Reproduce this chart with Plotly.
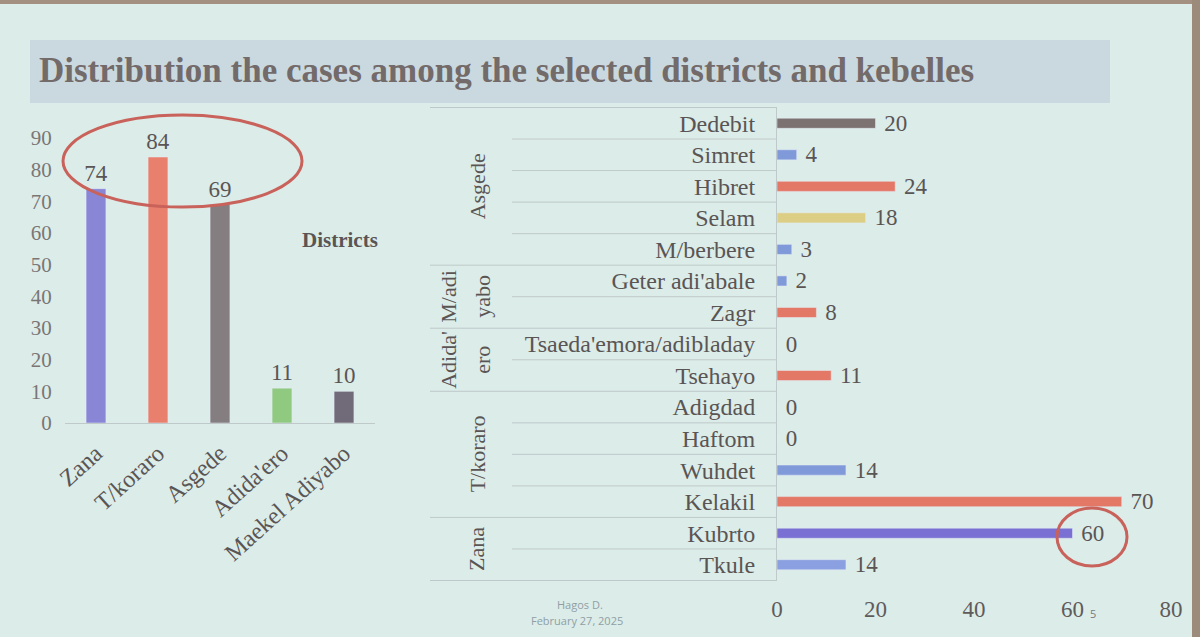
import plotly.graph_objects as go

W, H = 1200, 637

# ---- data ----
districts = ["Zana", "T/koraro", "Asgede", "Adida'ero", "Maekel Adiyabo"]
district_cases = [74, 84, 69, 11, 10]
district_colors = ["#8a86d6", "#e9806e", "#857e80", "#8fca80", "#716a78"]

kebelles = ["Dedebit", "Simret", "Hibret", "Selam", "M/berbere",
            "Geter adi'abale", "Zagr",
            "Tsaeda'emora/adibladay", "Tsehayo",
            "Adigdad", "Haftom", "Wuhdet", "Kelakil",
            "Kubrto", "Tkule"]
kebelle_cases = [20, 4, 24, 18, 3, 2, 8, 0, 11, 0, 0, 14, 70, 60, 14]
kebelle_colors = ["#7d7272", "#8099d8", "#e47866", "#dccf85", "#8099d8",
                  "#8099d8", "#e47866", "#e47866", "#e47866",
                  "#8099d8", "#8099d8", "#8099d8", "#e47866",
                  "#7a6fd2", "#8aa0e0"]
# groups: (label lines, first index, last index)
groups = [(["Asgede"], 0, 4),
          (["M/adi", "yabo"], 5, 6),
          (["Adida'", "ero"], 7, 8),
          (["T/koraro"], 9, 12),
          (["Zana"], 13, 14)]

left_ticks = [0, 10, 20, 30, 40, 50, 60, 70, 80, 90]
right_ticks = [0, 20, 40, 60, 80]

def px(x):
    return x / W

def py(y):
    return 1 - y / H

SERIF = "Liberation Serif"
TXT = "#5a5555"
fig = go.Figure()

fig.add_trace(go.Bar(
    x=districts, y=district_cases, marker_color=district_colors,
    text=district_cases, textposition="outside", constraintext="none",
    textfont=dict(family=SERIF, size=23, color=TXT),
    cliponaxis=False, xaxis="x", yaxis="y", showlegend=False))

fig.add_trace(go.Bar(
    y=kebelles, x=kebelle_cases, orientation="h", marker_color=kebelle_colors,
    texttemplate=" %{x}", textposition="outside", constraintext="none",
    textfont=dict(family=SERIF, size=23, color=TXT),
    cliponaxis=False, xaxis="x2", yaxis="y2", showlegend=False))

shapes = []
annotations = []

# slide decorations
shapes.append(dict(type="rect", xref="paper", yref="paper", x0=0, x1=1, y0=py(4), y1=1,
                   fillcolor="#a39080", line_width=0, layer="below"))
shapes.append(dict(type="rect", xref="paper", yref="paper", x0=px(1192), x1=1, y0=0, y1=1,
                   fillcolor="#9c8a7a", line_width=0, layer="below"))
shapes.append(dict(type="rect", xref="paper", yref="paper", x0=px(30), x1=px(1110),
                   y0=py(103), y1=py(40), fillcolor="#cad9e0", line_width=0, layer="below"))

# table lines for right chart
n = len(kebelles)
group_bounds = set()
for _, a, b in groups:
    group_bounds.add(a - 0.5)
    group_bounds.add(b + 0.5)
for i in range(n + 1):
    yb = i - 0.5
    x0 = px(430) if yb in group_bounds else px(512)
    shapes.append(dict(type="line", xref="paper", yref="y2", x0=x0, x1=px(777),
                       y0=yb, y1=yb, line=dict(color="#bfc9c9", width=1)))

# group labels
for lines, a, b in groups:
    yc = (a + b) / 2
    if len(lines) == 1:
        annotations.append(dict(text=lines[0], xref="paper", yref="y2", x=px(477), y=yc,
                                xanchor="center", yanchor="middle",
                                textangle=-90, showarrow=False,
                                font=dict(family=SERIF, size=22, color=TXT)))
    else:
        for k, ln in enumerate(lines):
            annotations.append(dict(text=ln, xref="paper", yref="y2", x=px(449 + 34 * k), y=yc,
                                    xanchor="center", yanchor="middle",
                                    textangle=-90, showarrow=False,
                                    font=dict(family=SERIF, size=22, color=TXT)))

# highlight ellipses
shapes.append(dict(type="circle", xref="paper", yref="paper", x0=px(63), x1=px(302),
                   y0=py(207), y1=py(115), line=dict(color="#c8625a", width=3)))
shapes.append(dict(type="circle", xref="paper", yref="paper", x0=px(1057), x1=px(1127),
                   y0=py(566), y1=py(508), line=dict(color="#c8625a", width=3)))

# title and texts
annotations.append(dict(text="<b>Distribution the cases among the selected districts and kebelles</b>",
                        xref="paper", yref="paper", x=px(37), y=py(70), xanchor="left",
                        yanchor="middle", showarrow=False,
                        font=dict(family=SERIF, size=35, color="#736a6a")))
annotations.append(dict(text="<b>Districts</b>", xref="paper", yref="paper", x=px(340), y=py(240),
                        xanchor="center", yanchor="middle",
                        showarrow=False, font=dict(family=SERIF, size=21, color=TXT)))
annotations.append(dict(text="Hagos D.", xref="paper", yref="paper", x=px(580), y=py(604),
                        xanchor="center", yanchor="middle",
                        showarrow=False, font=dict(family="Open Sans", size=11, color="#8f9fa6")))
annotations.append(dict(text="February 27, 2025", xref="paper", yref="paper", x=px(577), y=py(620),
                        xanchor="center", yanchor="middle",
                        showarrow=False, font=dict(family="Open Sans", size=11, color="#8f9fa6")))
annotations.append(dict(text="5", xref="paper", yref="paper", x=px(1093), y=py(613),
                        xanchor="center", yanchor="middle",
                        showarrow=False, font=dict(family="Open Sans", size=11, color="#7a7a7a")))

fig.update_layout(
    width=W, height=H, margin=dict(l=0, r=0, t=0, b=0, autoexpand=False),
    paper_bgcolor="#dcece8", plot_bgcolor="rgba(0,0,0,0)",
    bargap=0.68, showlegend=False,
    shapes=shapes, annotations=annotations,
    xaxis=dict(domain=[px(65), px(375)], anchor="y", type="category", automargin=False,
               tickangle=-42, showline=True, linecolor="#bfc9c9", linewidth=1,
               ticks="outside", ticklen=6, tickcolor="rgba(0,0,0,0)",
               tickfont=dict(family=SERIF, size=24, color=TXT),
               showgrid=False, zeroline=False),
    yaxis=dict(domain=[py(423), py(138)], anchor="x", range=[0, 90], automargin=False,
               tickvals=left_ticks, showgrid=False, zeroline=False, showline=False,
               ticks="outside", ticklen=8, tickcolor="rgba(0,0,0,0)",
               tickfont=dict(family=SERIF, size=21, color="#7a7676")),
    xaxis2=dict(domain=[px(777), px(1171)], anchor="y2", range=[0, 80], automargin=False,
                tickvals=right_ticks, showgrid=False, zeroline=False, showline=False,
                ticks="outside", ticklen=7, tickcolor="rgba(0,0,0,0)",
                tickfont=dict(family=SERIF, size=23, color="#605b5b")),
    yaxis2=dict(domain=[py(581), py(107)], anchor="x2", type="category", automargin=False,
                categoryorder="array", categoryarray=kebelles, autorange="reversed",
                showline=True, linecolor="#bfc9c9", linewidth=1,
                ticks="outside", ticklen=16, tickcolor="rgba(0,0,0,0)",
                tickfont=dict(family=SERIF, size=24, color=TXT),
                showgrid=False, zeroline=False),
)

fig.write_html("out.html",
               post_script="document.body.style.margin='0';document.body.style.overflow='hidden';")
